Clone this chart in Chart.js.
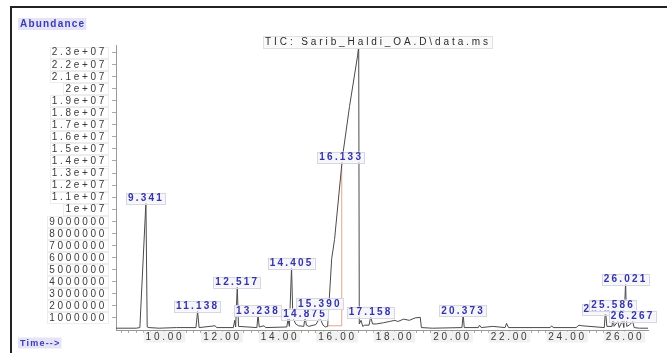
<!DOCTYPE html>
<html>
<head>
<meta charset="utf-8">
<script src="https://cdn.jsdelivr.net/npm/chart.js@4"></script>
<style>
  body { margin: 0; background: #fff; }
  canvas { display: block; }
</style>
</head>
<body>
<canvas id="tic" width="667" height="353"></canvas>
<script>
// TIC chromatogram (abundance dalam juta)
const times = [8.30, 9.00, 9.13, 9.341, 9.385, 9.45, 9.80, 10.40, 11.08, 11.138, 11.19, 11.75, 11.80, 12.38, 12.43, 12.46, 12.517, 12.56, 13.20, 13.238, 13.28, 13.45, 13.50, 14.24, 14.28, 14.33, 14.405, 14.45, 14.55, 14.65, 14.83, 14.875, 14.92, 15.00, 15.25, 15.39, 15.50, 15.58, 15.66, 15.80, 15.90, 16.18, 16.42, 16.70, 16.74, 16.76, 16.82, 16.88, 16.95, 17.10, 17.158, 17.22, 17.35, 17.60, 17.80, 18.00, 18.10, 18.30, 18.50, 18.70, 18.88, 18.92, 19.30, 20.33, 20.373, 20.41, 20.90, 20.94, 21.00, 21.40, 21.83, 21.88, 21.95, 23.40, 23.45, 23.50, 24.30, 24.40, 24.50, 25.28, 25.32, 25.37, 25.55, 25.586, 25.62, 25.75, 25.80, 25.92, 25.96, 26.021, 26.06, 26.15, 26.267, 26.32, 26.50, 26.80];
const abundanceM = [0.15, 0.15, 0.2, 10.6, 0.25, 0.2, 0.15, 0.2, 0.2, 1.55, 0.2, 0.35, 0.2, 0.2, 0.8, 0.25, 3.6, 0.3, 0.2, 1.3, 0.25, 0.35, 0.2, 0.25, 0.9, 0.3, 5.2, 1.0, 0.5, 0.35, 0.3, 1.1, 0.4, 0.3, 0.45, 1.0, 0.4, 0.25, 0.3, 5.9, 7.5, 14.4, 18.5, 22.7, 23.5, 0.5, 0.8, 0.3, 0.4, 0.4, 1.1, 0.5, 0.5, 0.6, 0.7, 0.8, 0.7, 0.9, 0.8, 1.0, 1.05, 0.2, 0.15, 0.2, 1.3, 0.2, 0.2, 0.4, 0.2, 0.3, 0.2, 0.55, 0.2, 0.2, 0.35, 0.2, 0.2, 0.4, 0.35, 0.2, 1.6, 0.3, 0.3, 1.2, 0.3, 0.7, 0.2, 0.8, 0.2, 4.0, 0.3, 0.4, 0.7, 0.2, 0.15, 0.15];

// garis integrasi (oranye) di puncak besar
const markerTimes = [15.66, 16.15, 16.15];
const markerM = [0.35, 0.35, 13.9];

// label puncak + tinggi tempat label
const peakLabels = ['9.341', '11.138', '12.517', '13.238', '14.405', '14.875', '15.390', '16.133', '17.158', '20.373', '25.320', '25.586', '26.021', '26.267'];
const labelLevelM = [10.5, 1.57, 3.56, 1.16, 5.13, 0.91, 1.74, 13.9, 1.07, 1.16, 1.32, 1.65, 3.8, 0.74];

const yTicks = [1e6, 2e6, 3e6, 4e6, 5e6, 6e6, 7e6, 8e6, 9e6, 1e7, 1.1e7, 1.2e7, 1.3e7, 1.4e7, 1.5e7, 1.6e7, 1.7e7, 1.8e7, 1.9e7, 2e7, 2.1e7, 2.2e7, 2.3e7];
const yTickLabels = ['1000000', '2000000', '3000000', '4000000', '5000000', '6000000', '7000000', '8000000', '9000000', '1e+07', '1.1e+07', '1.2e+07', '1.3e+07', '1.4e+07', '1.5e+07', '1.6e+07', '1.7e+07', '1.8e+07', '1.9e+07', '2e+07', '2.1e+07', '2.2e+07', '2.3e+07'];
const xTicks = [10, 12, 14, 16, 18, 20, 22, 24, 26];
const xTickLabels = ['10.00', '12.00', '14.00', '16.00', '18.00', '20.00', '22.00', '24.00', '26.00'];

const series = times.map((t, i) => ({ x: t, y: abundanceM[i] * 1e6 }));
const marker = markerTimes.map((t, i) => ({ x: t, y: markerM[i] * 1e6 }));

function boxText(ctx, text, x, y, opt) {
    ctx.font = opt.font;
    ctx.letterSpacing = opt.spacing;
    const w = ctx.measureText(text).width;
    let left = opt.align === 'right' ? x - w : (opt.align === 'left' ? x : x - w / 2);
    const h = opt.h || 11;
    ctx.fillStyle = opt.bg;
    ctx.fillRect(left - 2, y - h / 2, w + 3, h);
    if (opt.border) {
        ctx.strokeStyle = opt.border;
        ctx.lineWidth = 1;
        ctx.strokeRect(Math.round(left - 2) + 0.5, Math.round(y - h / 2) + 0.5, Math.round(w + 3), h);
    }
    ctx.fillStyle = opt.color;
    ctx.textAlign = 'left';
    ctx.textBaseline = 'middle';
    ctx.fillText(text, left, y + 0.5);
}

const decor = {
    id: 'decor',
    afterDraw(chart) {
        const ctx = chart.ctx;
        const xs = chart.scales.x, ys = chart.scales.y;
        ctx.save();
        // bingkai
        ctx.strokeStyle = '#222';
        ctx.lineWidth = 2;
        ctx.beginPath();
        ctx.moveTo(11, 353); ctx.lineTo(11, 7); ctx.lineTo(667, 7);
        ctx.stroke();

        const grayText = { font: '10px "Liberation Sans"', spacing: '2.7px', color: '#3a3a3a', bg: '#fff', border: '#ededed', align: 'right' };
        const blueText = { font: 'bold 10px "Liberation Sans"', spacing: '2.2px', color: '#3434a6', bg: '#f6f6fa', border: '#d6d6e0', align: 'center' };

        boxText(ctx, 'Abundance', 20, 24, { font: 'bold 10px "Liberation Sans"', spacing: '1.2px', color: '#3a3ab4', bg: '#e4e4f6', align: 'left', h: 12 });
        boxText(ctx, 'Time-->', 20, 343, { font: 'bold 9px "Liberation Sans"', spacing: '1.2px', color: '#3a3ab4', bg: '#e4e4f6', align: 'left', h: 11 });
        boxText(ctx, 'TIC: Sarib_Haldi_OA.D\\data.ms', 378, 42, { font: '10px "Liberation Sans"', spacing: '2.9px', color: '#2a2a2a', bg: '#fafafa', border: '#e0e0e0', align: 'center', h: 12 });

        yTicks.forEach((v, i) => {
            boxText(ctx, yTickLabels[i], 107, ys.getPixelForValue(v), grayText);
        });
        xTicks.forEach((v, i) => {
            boxText(ctx, xTickLabels[i], xs.getPixelForValue(v), 337, Object.assign({}, grayText, { align: 'center', bg: '#f1f1f1', border: null }));
        });
        peakLabels.forEach((lab, i) => {
            boxText(ctx, lab, xs.getPixelForValue(parseFloat(lab)), ys.getPixelForValue(labelLevelM[i] * 1e6) - 5, blueText);
        });
        ctx.restore();
    }
};

new Chart(document.getElementById('tic'), {
    type: 'scatter',
    data: {
        datasets: [{
            data: series,
            showLine: true,
            borderColor: '#4a4a4a',
            borderWidth: 1,
            pointRadius: 0,
            tension: 0
        }, {
            data: marker,
            showLine: true,
            borderColor: '#e6a48a',
            borderWidth: 1,
            pointRadius: 0
        }]
    },
    options: {
        responsive: false,
        animation: false,
        devicePixelRatio: 1,
        layout: { padding: { top: 45, right: 19, left: 0, bottom: 0 } },
        plugins: { legend: { display: false }, tooltip: { enabled: false } },
        scales: {
            x: {
                type: 'linear',
                min: 8.3,
                max: 26.8,
                afterBuildTicks: s => {
                    const t = [];
                    for (let v = 8.5; v <= 26.6; v += 0.25) t.push({ value: v });
                    s.ticks = t;
                },
                ticks: { display: false },
                grid: { drawOnChartArea: false, drawTicks: true, tickLength: 3, color: '#aaa' },
                border: { color: '#999' },
                afterFit: s => { s.height = 23; }
            },
            y: {
                min: 0,
                max: 23.6e6,
                afterBuildTicks: s => { s.ticks = yTicks.map(v => ({ value: v })); },
                ticks: { display: false },
                grid: { drawOnChartArea: false, drawTicks: true, tickLength: 4, color: '#aaa' },
                border: { color: '#999' },
                afterFit: s => { s.width = 116; }
            }
        }
    },
    plugins: [decor]
});
</script>
</body>
</html>
